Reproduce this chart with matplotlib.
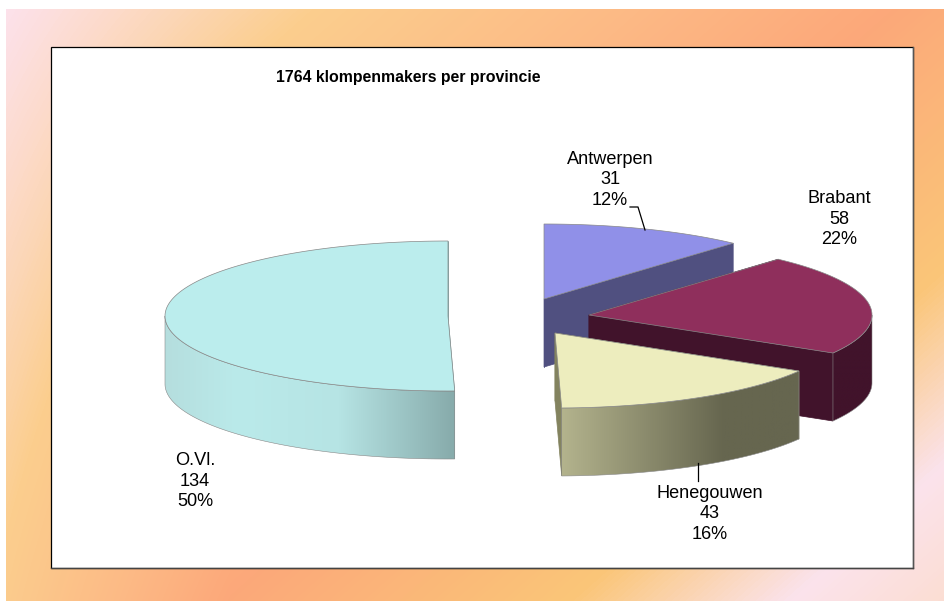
import numpy as np
import matplotlib
matplotlib.use("Agg")
import matplotlib.pyplot as plt
from matplotlib.colors import LinearSegmentedColormap
from matplotlib.patches import Polygon, Rectangle

plt.rcParams['font.family'] = ['Liberation Sans', 'DejaVu Sans']

provinces = ["Antwerpen", "Brabant", "Henegouwen", "O.Vl."]
counts = [31, 58, 43, 134]
percents = ["12%", "22%", "16%", "50%"]
title = "1764 klompenmakers per provincie"

# apex of every exploded slice, in pixels
centres = [(544, 299), (589, 315), (555, 333), (448, 316)]
top_colors = ["#9090E8", "#8F2F5C", "#EDEDBE", "#BBEDED"]
cut_colors = ["#505080", "#41132B", "#83835F", "#87ABAB"]
wall_stops = [
    [(0, "#505080"), (1, "#505080")],
    [(0, "#41132B"), (1, "#41132B")],
    [(0, "#B3B38D"), (0.68, "#66664F"), (1, "#66664F")],
    [(0, "#B5DEDE"), (0.25, "#BAEAEA"), (0.6, "#B6E4E4"), (1, "#87ABAB")],
]
label_pos = [(610, 180), (839, 219), (710, 514), (195, 481)]

RX, RY, DEPTH = 283, 75, 68
W, H = 945, 602


def arc(cx, cy, a0, a1):
    t = np.radians(np.linspace(a0, a1, 120))
    return np.column_stack([cx + RX * np.sin(t), cy - RY * np.cos(t)])


def background(ax):
    # diagonal gradient behind the white plot area
    tmax = 1790.0
    cmap = LinearSegmentedColormap.from_list("bg", [
        (0, "#FDE2EE"), (320 / tmax, "#FBCE8E"), (650 / tmax, "#FDB985"),
        (900 / tmax, "#FCA87A"), (1250 / tmax, "#FAC678"),
        (1470 / tmax, "#FBE3EC"), (1, "#FBD8B8")])
    xx, yy = np.meshgrid(np.arange(6, W), np.arange(9, H - 1))
    # the left edge runs slower than the rest of the sweep
    t = xx + 1.13 * yy - 330 * (yy / 600) * (1 - xx / 230).clip(0)
    ax.imshow((t / tmax).clip(0, 1), cmap=cmap, vmin=0, vmax=1,
              extent=(6, W, H - 1, 9), aspect="auto", zorder=0)
    ax.add_patch(Rectangle((51, 47), 862, 521, fc="white", ec="black", lw=0.9, zorder=1))
    ax.plot([913, 913], [47, 568], color="#555555", lw=1.0, zorder=1)
    ax.plot([51, 913], [568, 568], color="#444444", lw=1.0, zorder=1)


def draw_slice(ax, i, a0, a1, z):
    cx, cy = centres[i]
    edge = "#888888"
    apex = np.array([[cx, cy]])
    # flat cut faces first, the top and the round wall cover what is hidden
    for a in (a0, a1):
        p = arc(cx, cy, a, a)[:1]
        face = np.vstack([apex, p, p + [0, DEPTH], apex + [0, DEPTH]])
        ax.add_patch(Polygon(face, fc=cut_colors[i], ec=cut_colors[i], lw=0.5, zorder=z))
    w0, w1 = max(a0, 90), min(a1, 270)
    if w1 > w0:
        rim = arc(cx, cy, w0, w1)
        wall = np.vstack([rim, rim[::-1] + [0, DEPTH]])
        patch = Polygon(wall, fc="none", ec=edge, lw=0.4, zorder=z + 0.2)
        ax.add_patch(patch)
        cmap = LinearSegmentedColormap.from_list("w%d" % i, wall_stops[i])
        grad = np.linspace(0, 1, 256)[None, :]
        x0, x1 = wall[:, 0].min(), wall[:, 0].max()
        im = ax.imshow(grad, cmap=cmap, extent=(x0, x1, wall[:, 1].max(), wall[:, 1].min()),
                       aspect="auto", zorder=z + 0.1)
        im.set_clip_path(patch)
    top = np.vstack([apex, arc(cx, cy, a0, a1)])
    ax.add_patch(Polygon(top, fc=top_colors[i], ec=edge, lw=0.5, zorder=z + 0.3))


fig = plt.figure(figsize=(9.45, 6.02), dpi=100)
ax = fig.add_axes([0, 0, 1, 1])
ax.axis("off")
background(ax)

total = sum(counts)
ends = np.cumsum(counts) / total * 360
starts = np.concatenate([[0], ends[:-1]])
for i in range(len(counts)):
    draw_slice(ax, i, starts[i], ends[i], 2 + i)

# leader lines
ax.plot([630, 638, 645], [207, 207, 230], color="black", lw=0.9, zorder=8)
ax.plot([698, 698], [463, 481], color="black", lw=0.9, zorder=8)

for i, name in enumerate(provinces):
    ax.text(label_pos[i][0], label_pos[i][1], "%s\n%d\n%s" % (name, counts[i], percents[i]),
            ha="center", va="center", fontsize=13.1, linespacing=1.28, zorder=9)
ax.text(408.5, 77.5, title, ha="center", va="center", fontsize=11.4, fontweight="bold", zorder=9)

ax.set_xlim(0, W)
ax.set_ylim(H, 0)
fig.savefig("out.png", dpi=100, facecolor="white")
